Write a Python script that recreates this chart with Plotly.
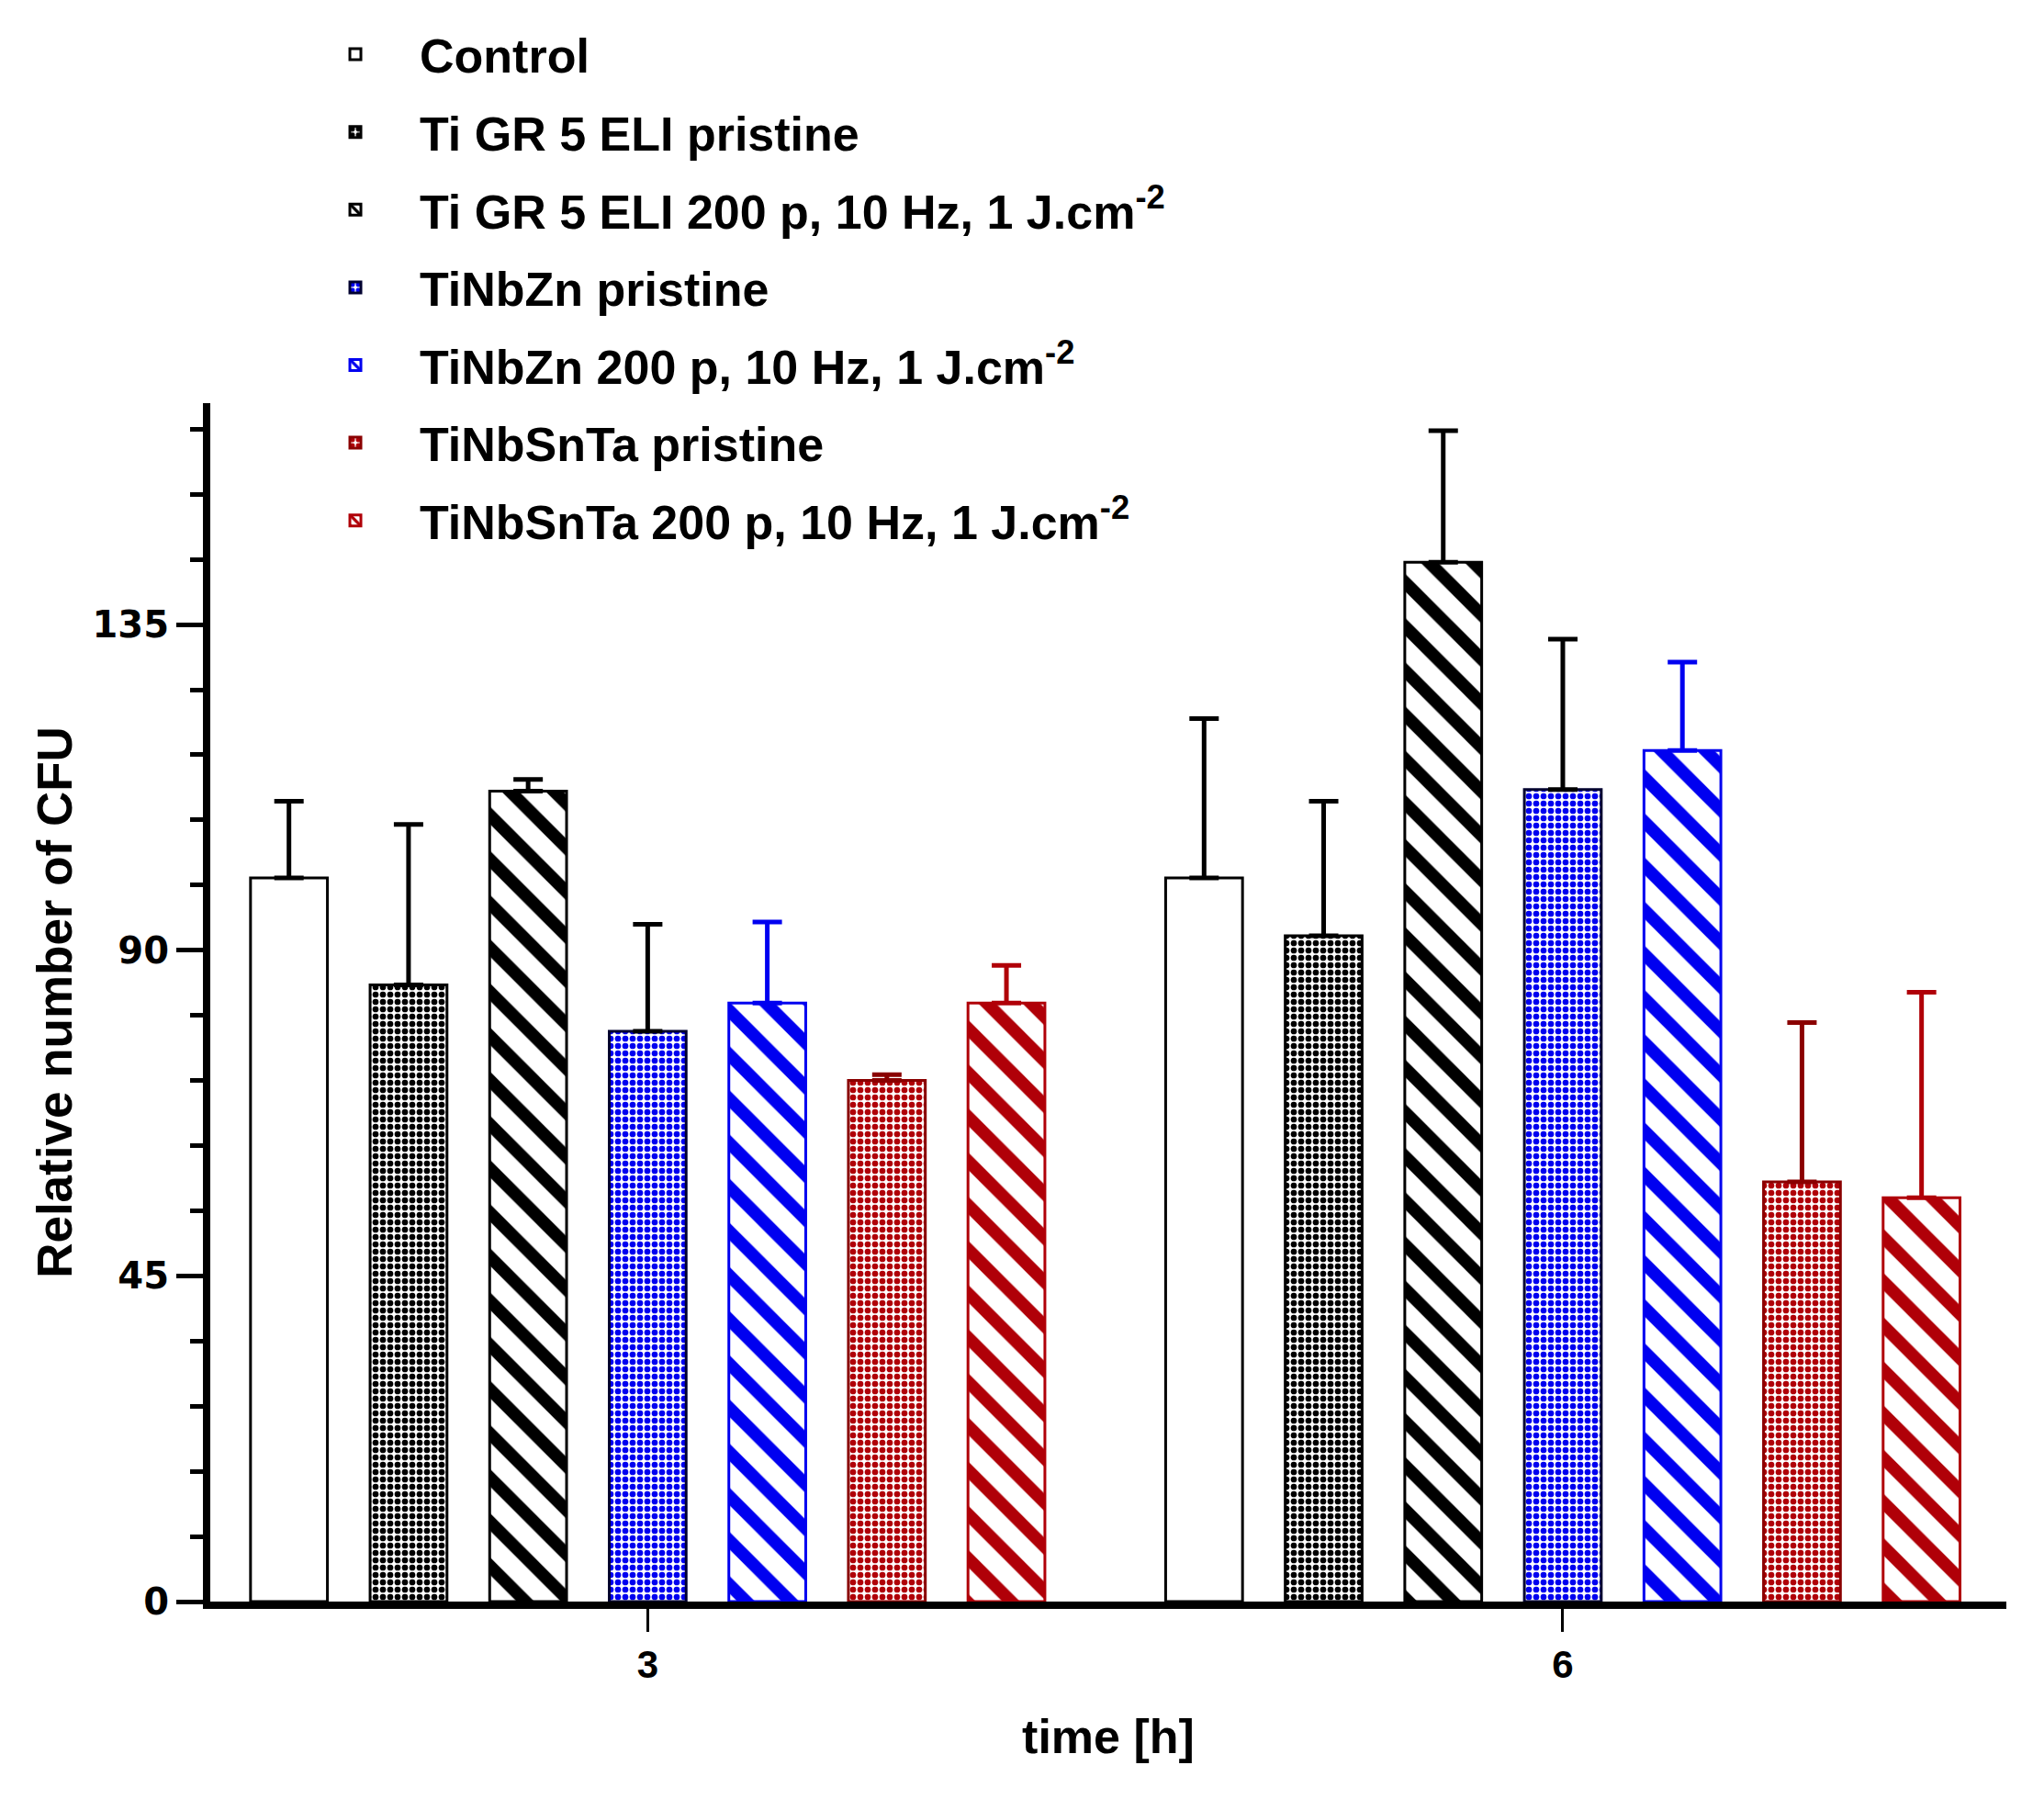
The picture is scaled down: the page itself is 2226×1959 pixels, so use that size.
import plotly.graph_objects as go

# ---- data ----
times = [3, 6]
series_names = [
    "Control",
    "Ti GR 5 ELI pristine",
    "Ti GR 5 ELI 200 p, 10 Hz, 1 J.cm<sup>-2</sup>",
    "TiNbZn pristine",
    "TiNbZn 200 p, 10 Hz, 1 J.cm<sup>-2</sup>",
    "TiNbSnTa pristine",
    "TiNbSnTa 200 p, 10 Hz, 1 J.cm<sup>-2</sup>",
]
control = [100.0, 100.0]
ti_pristine = [85.2, 92.0]
ti_laser = [112.0, 143.6]
tinbzn_pristine = [78.8, 112.2]
tinbzn_laser = [82.7, 117.6]
tinbsnta_pristine = [72.0, 58.0]
tinbsnta_laser = [82.7, 55.8]

control_err = [10.6, 22.0]
ti_pristine_err = [22.2, 18.6]
ti_laser_err = [1.6, 18.2]
tinbzn_pristine_err = [14.8, 20.8]
tinbzn_laser_err = [11.2, 12.2]
tinbsnta_pristine_err = [0.8, 22.0]
tinbsnta_laser_err = [5.2, 28.4]

y_ticks = [0, 45, 90, 135]

values = [control, ti_pristine, ti_laser, tinbzn_pristine, tinbzn_laser,
          tinbsnta_pristine, tinbsnta_laser]
errors = [control_err, ti_pristine_err, ti_laser_err, tinbzn_pristine_err,
          tinbzn_laser_err, tinbsnta_pristine_err, tinbsnta_laser_err]

# ---- styles ----
BLACK = "#000000"
BLUE = "#0000f0"
RED = "#b00008"
DRED = "#8a0000"
styles = [
    dict(shape="", fg=BLACK, line=BLACK, err=BLACK),
    dict(shape=".", fg=BLACK, line=BLACK, err=BLACK),
    dict(shape="\\", fg=BLACK, line=BLACK, err=BLACK),
    dict(shape=".", fg=BLUE, line="#000030", err=BLACK),
    dict(shape="\\", fg=BLUE, line=BLUE, err=BLUE),
    dict(shape=".", fg=RED, line=DRED, err=DRED),
    dict(shape="\\", fg=RED, line=RED, err=RED),
]

FONT = "Liberation Sans, Arial, sans-serif"

fig = go.Figure()
for i, (name, vals, errs, st) in enumerate(zip(series_names, values, errors, styles)):
    if st["shape"] == ".":
        pattern = dict(shape=".", fgcolor=st["fg"], bgcolor="white",
                       size=8, solidity=0.55, fillmode="overlay", fgopacity=1)
    elif st["shape"] == "\\":
        pattern = dict(shape="\\", fgcolor=st["fg"], bgcolor="white",
                       size=34, solidity=0.4, fillmode="overlay", fgopacity=1)
    else:
        pattern = dict(shape="")
    fig.add_trace(go.Bar(
        x=times, y=vals, name=name, legendgroup=f"g{i}",
        marker=dict(color="white", line=dict(color=st["line"], width=3),
                    pattern=pattern),
        error_y=dict(type="data", array=errs, arrayminus=[0] * len(errs),
                     symmetric=False, color=st["err"], thickness=5, width=16),
    ))

fig.update_layout(
    width=2226, height=1959,
    paper_bgcolor="white", plot_bgcolor="white",
    margin=dict(l=229, r=41, t=439, b=215),
    barmode="group", bargap=0.0853, bargroupgap=0.357,
    font=dict(family=FONT, color="black"),
    showlegend=True,
    legend=dict(
        x=0.045, y=1.322, xanchor="left", yanchor="top",
        font=dict(family=FONT, size=52, color="black", weight="bold"),
        bgcolor="rgba(0,0,0,0)", tracegroupgap=14, itemwidth=130,
    ),
)

fig.update_xaxes(
    range=[1.566, 7.454],
    tickvals=times, ticktext=[str(t) for t in times],
    ticks="outside", ticklen=25, tickwidth=3, tickcolor="black",
    showline=True, linewidth=8, linecolor="black",
    showgrid=False, zeroline=False,
    tickfont=dict(family=FONT, size=42, color="black", weight="bold"),
    title=dict(text="time [h]", standoff=40,
               font=dict(family=FONT, size=52, color="black", weight="bold")),
)
fig.update_yaxes(
    range=[0, 165.6],
    tickvals=y_ticks,
    ticks="outside", ticklen=29, tickwidth=5, tickcolor="black",
    minor=dict(dtick=9, tick0=0, ticks="outside", ticklen=14, tickwidth=5,
               tickcolor="black", showgrid=False),
    showline=True, linewidth=8, linecolor="black",
    showgrid=False, zeroline=False,
    tickfont=dict(family="DejaVu Sans, sans-serif", size=40, color="black",
                  weight="bold"),
    title=dict(text="Relative number of CFU", standoff=8,
               font=dict(family=FONT, size=53, color="black", weight="bold")),
)

fig.write_html("out.html")
